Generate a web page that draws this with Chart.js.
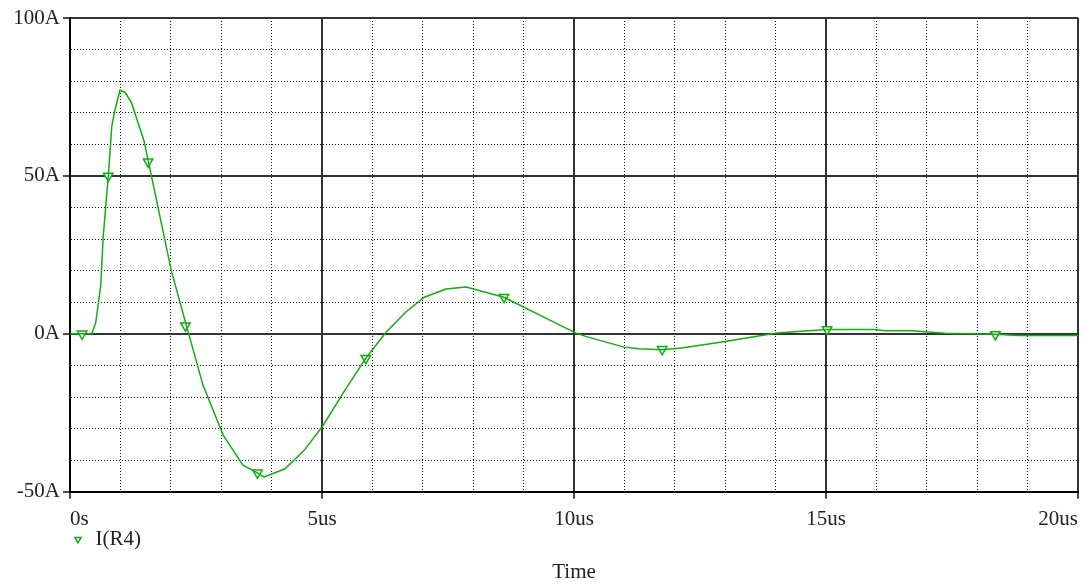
<!DOCTYPE html>
<html>
<head>
<meta charset="utf-8">
<script src="https://cdn.jsdelivr.net/npm/chart.js@4/dist/chart.umd.min.js"></script>
<style>
  html, body { margin: 0; padding: 0; background: #fff; }
  #wrap { width: 1085px; height: 585px; }
</style>
</head>
<body>
<div id="wrap"><canvas id="plot" width="1085" height="585"></canvas></div>
<script>
// Time axis (us) and I(R4) current (A)
const timeUs = [0, 0.24, 0.43, 0.51, 0.61, 0.66, 0.76, 0.83, 0.88, 0.99, 1.09, 1.22, 1.47, 1.56, 2.01, 2.31,
    2.64, 3.04, 3.43, 3.71, 3.85, 4.26, 4.65, 5.02, 5.45, 5.87, 6.27, 6.67, 7.03, 7.46, 7.86, 8.61,
    9.44, 10.03, 10.23, 10.99, 11.29, 11.75, 12.14, 13.0, 14.02, 15.02, 15.97, 16.17, 16.7, 17.36,
    18.35, 18.81, 20];
const currentA = [0, 0, 0, 3.5, 15.3, 31, 50, 65.8, 70, 77.1, 76.5, 73.2, 61, 54.2, 20, 2.6,
    -16.3, -32.1, -41.6, -43.9, -45.3, -42.8, -36.8, -29, -18, -7.7, 0.5, 7, 11.6, 14.2, 14.8, 11.6,
    5, 0.3, -0.8, -4.2, -4.7, -5.0, -4.5, -2.4, 0.3, 1.4, 1.4, 0.95, 0.95, 0.2,
    -0.1, -0.5, -0.5];

// trace symbols (down triangles) placed along the curve
const markerUs = [0.24, 0.76, 1.55, 2.29, 3.72, 5.87, 8.61, 11.75, 15.02, 18.36];
const markerA = [0, 50, 54.5, 2.6, -44, -7.7, 11.6, -4.9, 1.4, -0.2];

// axis ticks
const xTicks = [0, 5, 10, 15, 20];
const xTickLabels = ['0s', '5us', '10us', '15us', '20us'];
const yTicks = [-50, 0, 50, 100];
const yTickLabels = ['-50A', '0A', '50A', '100A'];

const traceColor = '#12ad12';
const fontFamily = '"Liberation Serif", "DejaVu Serif", serif';

Chart.defaults.font.family = fontFamily;
Chart.defaults.font.size = 21;
Chart.defaults.color = '#222';

function isMajor(ctx, majors) {
    return ctx.tick && majors.indexOf(ctx.tick.value) !== -1;
}

function gridFor(majors) {
    return {
        color: ctx => isMajor(ctx, majors) ? '#333' : '#111',
        lineWidth: ctx => isMajor(ctx, majors) ? 2 : 1,
        tickColor: ctx => isMajor(ctx, majors) ? '#111' : 'rgba(0,0,0,0)',
        tickLength: 7,
        tickWidth: 1.5
    };
}

function borderFor(majors) {
    return {
        display: true,
        color: '#000',
        width: 2,
        dash: ctx => isMajor(ctx, majors) ? [] : [1, 2]
    };
}

const lineData = timeUs.map((t, i) => ({ x: t, y: currentA[i] }));
const markerData = markerUs.map((t, i) => ({ x: t, y: markerA[i] }));

new Chart(document.getElementById('plot'), {
    type: 'scatter',
    data: {
        datasets: [{
            label: 'trace',
            data: lineData,
            showLine: true,
            borderColor: traceColor,
            borderWidth: 1.5,
            pointRadius: 0,
            tension: 0
        }, {
            label: 'I(R4)',
            data: markerData,
            showLine: false,
            borderColor: traceColor,
            backgroundColor: '#fff',
            pointStyle: 'triangle',
            rotation: 180,
            pointRadius: 5.5,
            pointBorderWidth: 1.5
        }]
    },
    options: {
        responsive: false,
        animation: false,
        layout: { padding: { top: 18, right: 5, left: 0, bottom: 0 } },
        scales: {
            x: {
                type: 'linear',
                min: 0,
                max: 20,
                grid: gridFor(xTicks),
                border: borderFor(xTicks),
                ticks: {
                    stepSize: 1,
                    align: 'inner',
                    padding: 8,
                    maxRotation: 0,
                    autoSkip: false,
                    callback: v => {
                        const i = xTicks.indexOf(v);
                        return i === -1 ? '' : xTickLabels[i];
                    }
                },
                afterFit: s => {
                    s.height = 36;
                    s.paddingLeft = 0;
                    s.paddingRight = 0;
                }
            },
            y: {
                type: 'linear',
                min: -50,
                max: 100,
                grid: gridFor(yTicks),
                border: borderFor(yTicks),
                ticks: {
                    stepSize: 10,
                    padding: 3,
                    autoSkip: false,
                    callback: v => {
                        const i = yTicks.indexOf(v);
                        return i === -1 ? '' : yTickLabels[i];
                    }
                },
                afterFit: s => {
                    s.width = 70;
                    s.paddingTop = 0;
                    s.paddingBottom = 0;
                }
            }
        },
        plugins: {
            legend: {
                position: 'bottom',
                align: 'start',
                fullSize: false,
                labels: {
                    filter: item => item.text === 'I(R4)',
                    usePointStyle: true,
                    boxHeight: 5,
                    boxWidth: 14,
                    padding: 1
                }
            },
            title: {
                display: true,
                position: 'bottom',
                fullSize: false,
                text: 'Time',
                font: { size: 21, weight: 'normal' },
                color: '#222',
                padding: { top: 0, bottom: 0 }
            },
            tooltip: { enabled: false }
        }
    }
});
</script>
</body>
</html>
